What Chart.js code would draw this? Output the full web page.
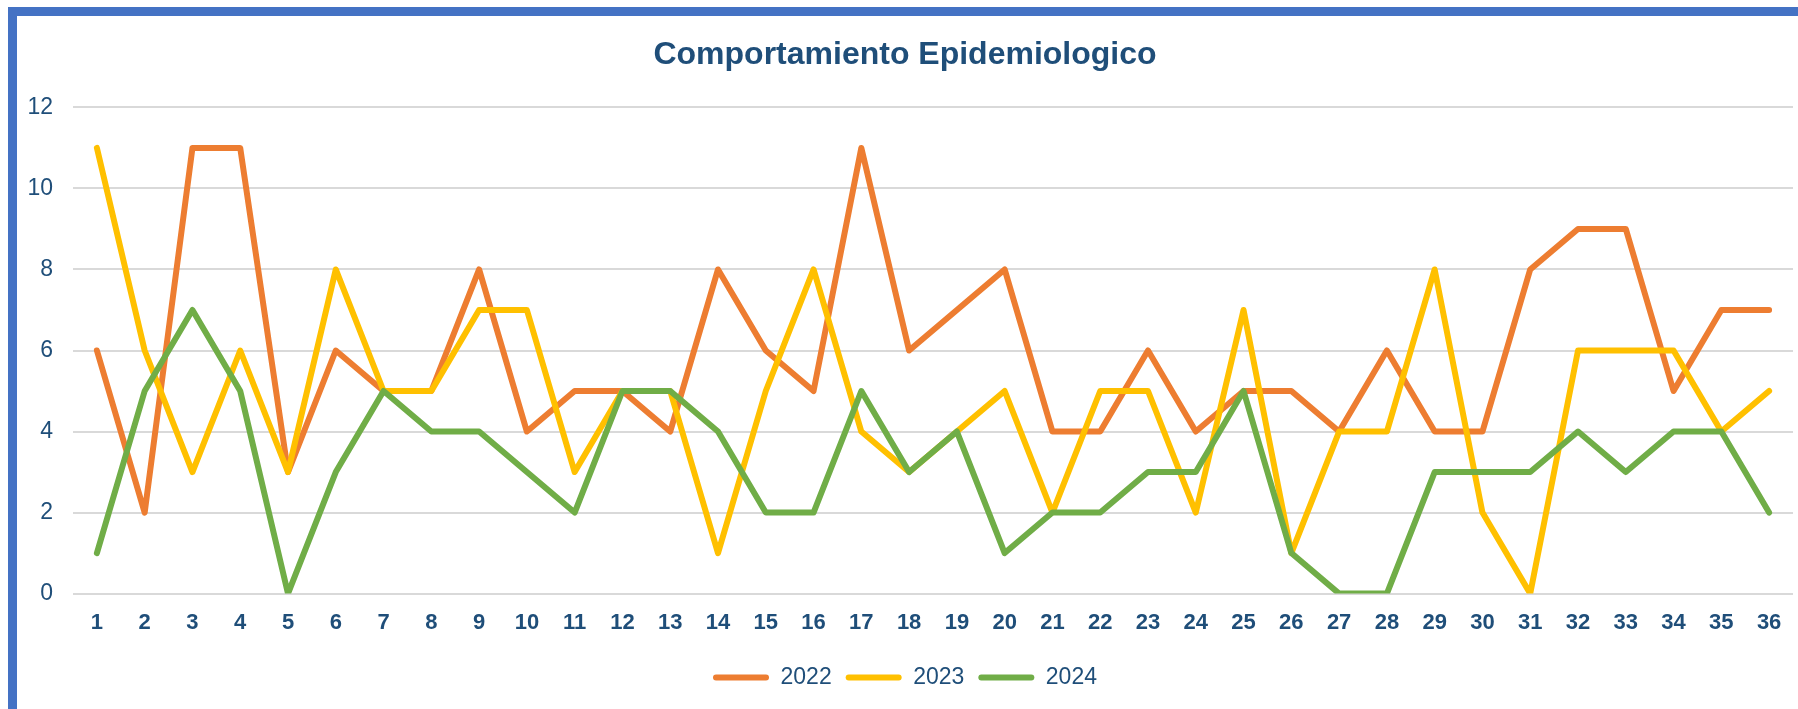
<!DOCTYPE html>
<html>
<head>
<meta charset="utf-8">
<script src="https://cdn.jsdelivr.net/npm/chart.js@4/dist/chart.umd.min.js"></script>
<style>
    html, body { margin: 0; padding: 0; background: #fff; overflow: hidden; }
    #frame {
        position: absolute; left: 8px; top: 7px;
        width: 1820px; height: 740px;
        border-top: 9px solid #4472C4;
        border-left: 9px solid #4472C4;
    }
    #wrap { position: absolute; left: 17px; top: 16px; width: 1781px; height: 693px; }
</style>
</head>
<body>
<div id="frame"></div>
<div id="wrap"><canvas id="mainChart"></canvas></div>
<script>
const semanas = [];
for (let i = 1; i <= 36; i++) semanas.push(String(i));

const casos2022 = [6, 2, 11, 11, 3, 6, 5, 5, 8, 4, 5, 5, 4, 8, 6, 5, 11, 6, 7, 8, 4, 4, 6, 4, 5, 5, 4, 6, 4, 4, 8, 9, 9, 5, 7, 7];
const casos2023 = [11, 6, 3, 6, 3, 8, 5, 5, 7, 7, 3, 5, 5, 1, 5, 8, 4, 3, 4, 5, 2, 5, 5, 2, 7, 1, 4, 4, 8, 2, 0, 6, 6, 6, 4, 5];
const casos2024 = [1, 5, 7, 5, 0, 3, 5, 4, 4, 3, 2, 5, 5, 4, 2, 2, 5, 3, 4, 1, 2, 2, 3, 3, 5, 1, 0, 0, 3, 3, 3, 4, 3, 4, 4, 2];

const yTicks = [0, 2, 4, 6, 8, 10, 12];

const azul = '#1F4E79';
const fuente = "'Liberation Sans Narrow', 'Arial Narrow', 'Liberation Sans', sans-serif";

function serie(label, data, color, order) {
    return {
        label: label,
        data: data,
        borderColor: color,
        backgroundColor: color,
        borderWidth: 6,
        tension: 0,
        pointRadius: 0,
        pointHoverRadius: 0,
        borderJoinStyle: 'round',
        borderCapStyle: 'round',
        fill: false,
        order: order // 2024 se dibuja encima
    };
}

const ctx = document.getElementById('mainChart').getContext('2d');
new Chart(ctx, {
    type: 'line',
    data: {
        labels: semanas,
        datasets: [
            serie('2022', casos2022, '#ED7D31', 3),
            serie('2023', casos2023, '#FFC000', 2),
            serie('2024', casos2024, '#70AD47', 1)
        ]
    },
    options: {
        responsive: true,
        maintainAspectRatio: false,
        animation: false,
        layout: { padding: { top: 0, right: 5, bottom: 10, left: 0 } },
        plugins: {
            title: {
                display: true,
                text: 'Comportamiento Epidemiologico',
                color: azul,
                font: { family: fuente, size: 32, weight: 'bold' },
                padding: { top: 20, bottom: 33 }
            },
            legend: {
                display: true,
                position: 'bottom',
                labels: {
                    color: azul,
                    font: { family: fuente, size: 23 },
                    boxWidth: 56,
                    boxHeight: 6,
                    padding: 14,
                    useBorderRadius: true,
                    borderRadius: 3,
                    sort: (a, b) => a.datasetIndex - b.datasetIndex,
                    generateLabels: function(chart) {
                        const items = Chart.defaults.plugins.legend.labels.generateLabels(chart);
                        items.forEach(it => { it.lineWidth = 0; it.fillStyle = it.strokeStyle; });
                        return items;
                    }
                }
            },
            tooltip: { enabled: false }
        },
        scales: {
            x: {
                offset: true,
                grid: { display: false, drawTicks: false },
                border: { display: false },
                ticks: {
                    color: azul,
                    padding: 16,
                    maxRotation: 0,
                    autoSkip: false,
                    font: { family: fuente, size: 22, weight: 'bold' }
                }
            },
            y: {
                min: 0,
                max: 12,
                afterBuildTicks: function(axis) {
                    axis.ticks = yTicks.map(v => ({ value: v }));
                },
                afterFit: function(axis) { axis.width = 56; },
                grid: { color: '#D9D9D9', lineWidth: 2, drawTicks: false },
                border: { display: false },
                ticks: {
                    color: azul,
                    padding: 20,
                    font: { family: fuente, size: 23 }
                }
            }
        }
    }
});
</script>
</body>
</html>
